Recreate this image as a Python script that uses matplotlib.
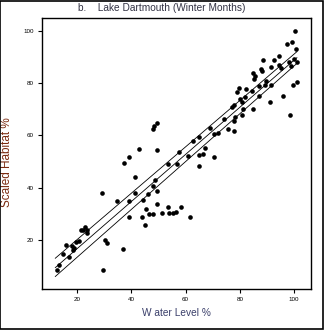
import numpy as np
import matplotlib
matplotlib.use("Agg")
import matplotlib.pyplot as plt
from matplotlib.patches import Rectangle

plt.rcParams["font.family"] = ["Liberation Sans", "DejaVu Sans"]

# Winter observations: water level vs scaled habitat (%)
water_level = [
    12.5, 13.2, 14.7, 16.1, 17.2, 18.2, 18.5, 18.9, 19.6, 20.6,
    21.4, 22.2, 23.1, 23.6, 23.8, 29.5, 30.2, 31.2, 36.9, 44.9,
    49.4, 48.5, 47.9, 42.9, 49.4, 39.0, 37.3, 53.5, 41.4, 48.8,
    48.1, 29.2, 49.6, 41.4, 46.2, 34.6, 39.0, 44.4, 49.4, 53.6,
    45.4, 46.4, 47.9, 51.3, 53.9, 55.5, 56.3, 58.2, 61.6, 39.0,
    43.9, 56.7, 57.7, 61.0, 62.8, 65.0, 65.0, 65.0, 66.5, 67.1,
    69.0, 70.5, 72.1, 70.5, 74.1, 75.7, 77.8, 77.8, 78.2, 80.7,
    80.9, 84.7, 91.1, 98.5, 100.2, 99.2, 97.2, 100.7, 94.4, 92.4,
    88.4, 91.3, 94.5, 95.0, 98.1, 99.9, 101.0, 99.0, 87.8, 88.1,
    84.9, 85.6, 85.2, 89.6, 89.1, 86.9, 91.5, 84.5, 82.2, 79.5,
    78.8, 87.1, 80.0, 81.9, 77.8, 77.0, 81.3, 95.8, 99.7, 101.1,
]
scaled_habitat = [
    8.2, 10.2, 14.6, 17.8, 13.3, 17.7, 16.1, 17.0, 19.3, 19.7,
    23.9, 23.6, 24.7, 23.8, 22.6, 8.2, 19.9, 18.9, 16.6, 25.8,
    64.6, 63.6, 62.3, 54.8, 54.4, 51.6, 49.5, 48.9, 44.1, 42.9,
    40.6, 38.0, 38.8, 37.8, 37.5, 35.0, 35.0, 35.2, 33.7, 32.6,
    31.9, 29.9, 29.9, 30.1, 30.1, 30.4, 30.8, 32.5, 28.9, 28.6,
    28.6, 49.0, 53.8, 52.1, 58.0, 59.3, 52.5, 48.4, 52.9, 55.1,
    62.7, 60.4, 61.1, 51.6, 66.3, 62.3, 61.7, 65.6, 67.2, 67.8,
    72.9, 70.0, 72.9, 67.9, 100.0, 95.9, 94.9, 93.1, 90.4, 89.0,
    88.8, 86.3, 87.0, 85.7, 88.1, 89.1, 88.2, 86.7, 85.3, 84.8,
    83.8, 82.6, 81.5, 81.0, 79.2, 78.9, 79.3, 77.1, 77.9, 78.2,
    76.7, 75.1, 74.1, 74.9, 71.6, 71.0, 70.0, 75.0, 79.5, 80.6,
]

# fitted line and the two band lines, given at their end points
fit_x = [12, 101]
fit_mid = [9.3, 89.8]
fit_upper = [12.9, 92.1]
fit_lower = [5.9, 87.6]

x_ticks = [20, 40, 60, 80, 100]
y_ticks = [20, 40, 60, 80, 100]

fig = plt.figure(figsize=(3.24, 3.30), dpi=100)
ax = fig.add_axes([0.1296, 0.1242, 0.8304, 0.8212])

ax.scatter(water_level, scaled_habitat, s=11, color="black", marker="o",
           linewidths=0, zorder=3)
for band in (fit_upper, fit_mid, fit_lower):
    ax.plot(fit_x, band, color="black", linewidth=0.6)

ax.set_xlim(7.1, 106.2)
ax.set_ylim(1.1, 105)
ax.set_xticks(x_ticks)
ax.set_yticks(y_ticks)
ax.tick_params(axis="both", direction="out", length=3, width=0.8,
               labelsize=4.5, pad=3, colors="black")
for sp in ax.spines.values():
    sp.set_linewidth(1.0)

ax.set_xlabel("W ater Level %", fontsize=7.3, color="#3a3f6a", labelpad=4)
ax.set_ylabel("Scaled Habitat %", fontsize=8.5, color="#7a2a10")
ax.yaxis.set_label_coords(-0.108, 0.47)
fig.text(0.5, 0.99, "b.    Lake Dartmouth (Winter Months)", ha="center",
         va="top", fontsize=7.3, color="#333344")

# thin frame round the whole figure
fig.patches.append(Rectangle((0.0015, 0.002), 0.994, 0.995,
                             transform=fig.transFigure, fill=False,
                             edgecolor="black", linewidth=1.2))

fig.savefig("out.png", dpi=100)
